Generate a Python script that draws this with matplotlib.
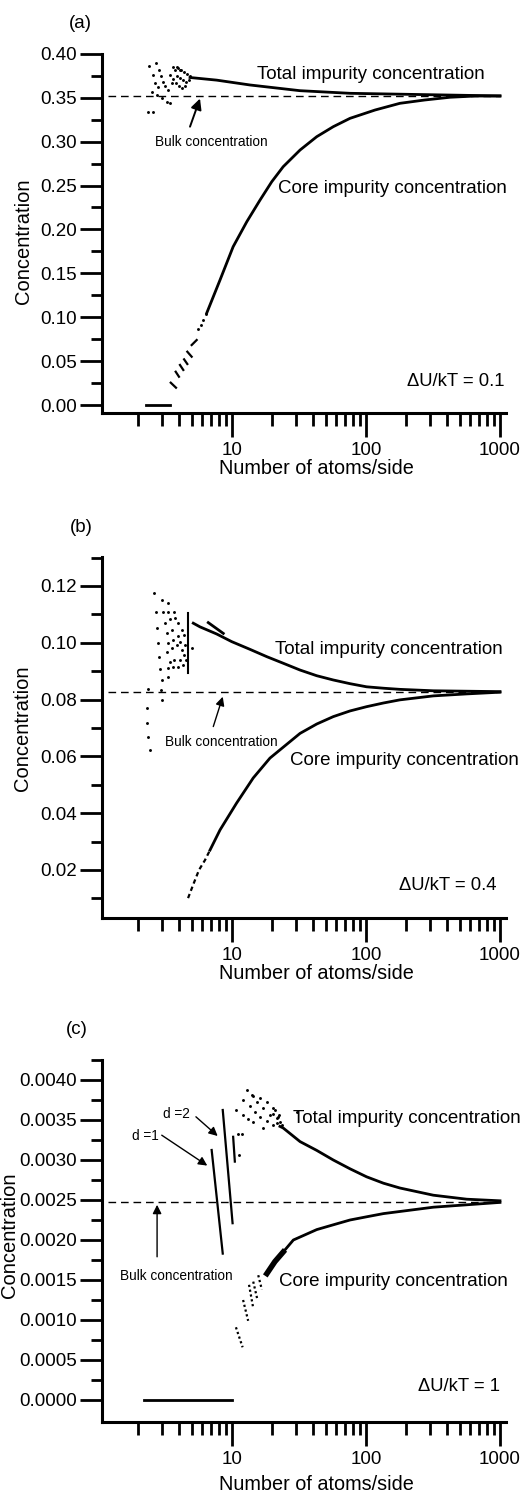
import numpy as np
import matplotlib
matplotlib.use('Agg')
import matplotlib.pyplot as plt
from matplotlib.ticker import FixedLocator, NullFormatter, FormatStrFormatter

plt.rcParams['font.family'] = ['Liberation Sans', 'DejaVu Sans']

W, H = 531, 1497

# ---------------- panel (a), dU/kT = 0.1 ----------------
a_bulk = 0.352
a_total_n = [4.86, 7.69, 13.6, 32.1, 76, 180, 424, 1000]
a_total_c = [0.373, 0.370, 0.3645, 0.358, 0.355, 0.354, 0.353, 0.352]
a_core_n = [6.48, 8.14, 10.2, 12.9, 16.2, 19.8, 24.1, 32.2, 42.9, 57.0, 76.0, 117, 179, 275, 424, 650, 1000]
a_core_c = [0.1048, 0.1424, 0.1803, 0.2088, 0.2335, 0.2543, 0.2714, 0.2904, 0.3056, 0.3170,
            0.3265, 0.3360, 0.3436, 0.3474, 0.3505, 0.3519, 0.352]
# short broken pieces of the core curve (n0, n1, c0, c1)
a_core_pieces = [(3.49, 3.82, 0.0254, 0.0197), (3.80, 4.02, 0.0379, 0.0322),
                 (4.09, 4.33, 0.0456, 0.0399), (4.39, 4.64, 0.0520, 0.0467),
                 (4.64, 5.00, 0.0607, 0.0550), (5.00, 5.45, 0.0683, 0.0740)]
a_core_dots_n = [5.60, 5.84, 6.11, 6.40]
a_core_dots_c = [0.0865, 0.0911, 0.0972, 0.1036]
a_zero_n = [2.3, 3.45]
a_scat_n = [2.415, 2.71, 2.56, 2.87, 2.94, 2.66, 3.07, 2.82, 3.16, 2.52, 2.74, 2.99, 3.26, 3.45,
            2.374, 2.59, 3.35, 3.55, 3.45, 3.65, 3.87, 4.09,
            3.76, 3.95, 4.16, 4.39, 4.62, 4.86, 3.89, 4.09, 4.31, 4.54, 4.78, 3.82, 4.02, 4.24,
            4.46, 3.63]
a_scat_c = [0.386, 0.389, 0.376, 0.3815, 0.3747, 0.3664, 0.3682, 0.3618, 0.3633, 0.3568, 0.3531,
            0.3493, 0.3454, 0.3436, 0.334, 0.334, 0.3588, 0.3664, 0.376, 0.3853, 0.3853, 0.3815,
            0.3815, 0.3838, 0.3815, 0.3793, 0.3770, 0.3747, 0.3747, 0.3724, 0.3702, 0.3679,
            0.3702, 0.3667, 0.3633, 0.3610, 0.3633, 0.3713]

# ---------------- panel (b), dU/kT = 0.4 ----------------
b_bulk = 0.0828
b_total_n = [5.14, 5.77, 7.68, 9.95, 13.6, 18.2, 24.1, 32.2, 42.9, 57.0, 76, 101, 135, 179, 318, 1000]
b_total_c = [0.1069, 0.1056, 0.1031, 0.1004, 0.0977, 0.0951, 0.0928, 0.0904, 0.0884, 0.0869,
             0.0856, 0.0845, 0.0840, 0.0836, 0.0831, 0.0828]
b_dash_n = [6.65, 8.61]
b_dash_c = [0.1071, 0.1033]
b_bar_n = 4.67
b_bar_c = [0.0894, 0.1105]
b_core_n = [4.70, 5.12, 5.67, 6.29, 6.85, 8.14, 10.8, 14.4, 19.2, 32.2, 42.9, 57.0, 76, 101,
            135, 179, 318, 565, 1000]
b_core_c = [0.0101, 0.0147, 0.0200, 0.0235, 0.0270, 0.0341, 0.0435, 0.0524, 0.0594, 0.0681,
            0.0714, 0.0740, 0.0760, 0.0775, 0.0788, 0.0799, 0.0813, 0.0820, 0.0826]
b_scat_n = [2.63, 3.02, 3.35, 2.70, 3.07, 3.35, 3.71, 3.16, 3.45, 3.76, 2.74, 3.26, 3.55, 3.94,
            2.82, 3.35, 3.65, 3.97, 4.21, 2.85, 3.26, 3.55, 3.87, 4.09, 2.90, 3.35, 3.65, 3.97,
            2.99, 3.35, 3.71, 4.09, 3.45, 2.35, 2.95, 2.99, 2.31, 2.31, 2.37, 2.44,
            4.24, 4.39, 4.31, 4.46, 4.54, 4.39, 5.0]
b_scat_c = [0.1174, 0.1151, 0.1141, 0.1108, 0.1108, 0.1108, 0.1108, 0.1071, 0.1083, 0.1086,
            0.1051, 0.1033, 0.1045, 0.1069, 0.1000, 0.0998, 0.1010, 0.1024, 0.1045, 0.0951,
            0.0969, 0.0981, 0.0992, 0.1004, 0.0907, 0.0910, 0.0914, 0.0914, 0.0869, 0.0881,
            0.0939, 0.0939, 0.0933, 0.0836, 0.0834, 0.0799, 0.0769, 0.0717, 0.0669, 0.0623,
            0.0975, 0.0957, 0.0922, 0.0992, 0.0939, 0.1027, 0.0981]

# ---------------- panel (c), dU/kT = 1 ----------------
c_bulk = 0.00248
c_total_n = [22.8, 24.1, 32.2, 42.9, 57.0, 76, 101, 135, 179, 318, 565, 1000]
c_total_c = [0.00342, 0.00340, 0.00323, 0.00312, 0.00300, 0.00289, 0.00279, 0.00271, 0.00265,
             0.00256, 0.00251, 0.00249]
c_core_n = [18.2, 20.9, 24.1, 28.7, 42.9, 57.0, 76.0, 101, 135, 318, 1000]
c_core_c = [0.00158, 0.00173, 0.00185, 0.00200, 0.00213, 0.00219, 0.00225, 0.00229, 0.00233,
            0.00241, 0.00247]
c_core_cols = [(10.7, 12.0, 0.000909, 0.000659), (12.1, 13.2, 0.00125, 0.00099),
               (13.4, 14.4, 0.00144, 0.00115), (14.4, 15.4, 0.00148, 0.00127),
               (15.7, 16.7, 0.00156, 0.00138)]
c_zero_n = [2.2, 10.0]
c_d1_n = [7.05, 8.53]
c_d1_c = [0.003125, 0.00183]
c_d2_n = [8.53, 10.1]
c_d2_c = [0.003625, 0.00221]
c_bar_n = [10.2, 10.5]
c_bar_c = [0.00329, 0.00298]
c_fan_n = [12.9, 14.0, 15.3, 17.1, 19.2, 21.6,
           12.1, 13.6, 14.8, 16.2, 18.2, 20.3,
           10.8, 12.1, 13.2, 14.4,
           14.4, 16.2, 18.2, 20.3, 22.1,
           11.1, 11.8, 11.3, 17.1, 30.4,
           20.3, 21.6, 22.8, 23.5, 21.0, 22.5]
c_fan_c = [0.00388, 0.00381, 0.00373, 0.00365, 0.00356, 0.00346,
           0.00375, 0.00367, 0.00360, 0.00354, 0.00349, 0.00344,
           0.00363, 0.00356, 0.00351, 0.00347,
           0.00380, 0.00377, 0.00373, 0.00365, 0.00354,
           0.00333, 0.00333, 0.00306, 0.00340, 0.00360,
           0.00358, 0.00352, 0.00348, 0.00344, 0.00362, 0.00356]

xlim = (1.071, 1109)
minor_x = [2, 3, 4, 5, 6, 7, 8, 9, 20, 30, 40, 50, 60, 70, 80, 90,
           200, 300, 400, 500, 600, 700, 800, 900]

fig = plt.figure(figsize=(W / 100, H / 100), dpi=100)


def px_axes(left, top, right, bottom):
    return fig.add_axes([left / W, 1 - bottom / H, (right - left) / W, (bottom - top) / H])


def ftext(x, y, s, **kw):
    fig.text(x / W, 1 - y / H, s, **kw)


def style(ax, ylim, major, minor, fmt):
    ax.set_xscale('log')
    ax.set_xlim(*xlim)
    ax.set_ylim(*ylim)
    for s in ['top', 'right']:
        ax.spines[s].set_visible(False)
    for s in ['left', 'bottom']:
        ax.spines[s].set_linewidth(2.2)
    ax.xaxis.set_major_locator(FixedLocator([10, 100, 1000]))
    ax.xaxis.set_minor_locator(FixedLocator(minor_x))
    ax.set_xticklabels(['10', '100', '1000'])
    ax.xaxis.set_minor_formatter(NullFormatter())
    ax.yaxis.set_major_locator(FixedLocator(major))
    ax.yaxis.set_minor_locator(FixedLocator(minor))
    ax.yaxis.set_major_formatter(FormatStrFormatter(fmt))
    ax.tick_params(which='major', length=16, width=2, direction='out', labelsize=13.5, pad=2)
    ax.tick_params(which='minor', length=8, width=2, direction='out')
    ax.tick_params(axis='x', which='major', length=17, pad=4)
    ax.tick_params(axis='x', which='minor', length=9)


def bulk_line(ax, v):
    ax.plot([1.19, 1000], [v, v], color='k', lw=1.0, dashes=(5.5, 3.5))


def arrow(ax, tail, head, lw=1.0, ms=12):
    ax.annotate('', xy=head, xytext=tail,
                arrowprops=dict(arrowstyle='-|>', color='k', lw=lw, mutation_scale=ms,
                                shrinkA=0, shrinkB=0))


dot = dict(ls='none', marker='o', ms=2.1, color='k', mec='none')

# ---- (a)
ax = px_axes(102, 53.8, 506, 413)
style(ax, (-0.00911, 0.40), np.arange(0, 0.401, 0.05), np.arange(0.025, 0.40, 0.05), '%.2f')
bulk_line(ax, a_bulk)
ax.plot(a_total_n, a_total_c, color='k', lw=2.0)
ax.plot(a_core_n, a_core_c, color='k', lw=2.0)
for n0, n1, c0, c1 in a_core_pieces:
    ax.plot([n0, n1], [c0, c1], color='k', lw=1.6)
ax.plot(a_core_dots_n, a_core_dots_c, **dot)
ax.plot(a_zero_n, [0, 0], color='k', lw=2.0)
ax.plot(a_scat_n, a_scat_c, **dot)
ax.text(15.4, 0.376, 'Total impurity concentration', fontsize=13.5, ha='left', va='center')
ax.text(22.0, 0.247, 'Core impurity concentration', fontsize=13.5, ha='left', va='center')
ax.text(7.05, 0.300, 'Bulk concentration', fontsize=9.8, ha='center', va='center')
arrow(ax, (4.86, 0.317), (5.77, 0.349), lw=1.4, ms=16)
ax.text(1089, 0.0265, '\u0394U/kT = 0.1', fontsize=13.3, ha='right', va='center')

# ---- (b)
ax = px_axes(102, 557, 506, 918)
style(ax, (0.0031, 0.1302), np.arange(0.02, 0.121, 0.02), np.arange(0.01, 0.131, 0.02), '%.2f')
bulk_line(ax, b_bulk)
ax.plot(b_total_n, b_total_c, color='k', lw=2.0)
ax.plot(b_dash_n, b_dash_c, color='k', lw=2.0)
ax.plot([b_bar_n, b_bar_n], b_bar_c, color='k', lw=1.5)
ax.plot(b_core_n[4:], b_core_c[4:], color='k', lw=2.0)
ax.plot(b_core_n[:5], b_core_c[:5], color='k', lw=1.6, dashes=(2, 1.5))
ax.plot(b_scat_n, b_scat_c, **dot)
ax.text(20.9, 0.0977, 'Total impurity concentration', fontsize=13.5, ha='left', va='center')
ax.text(27.1, 0.0585, 'Core impurity concentration', fontsize=13.5, ha='left', va='center')
ax.text(8.28, 0.0652, 'Bulk concentration', fontsize=9.8, ha='center', va='center')
arrow(ax, (7.25, 0.0705), (8.53, 0.0810), lw=1.0, ms=13)
ax.text(950, 0.0147, '\u0394U/kT = 0.4', fontsize=13.3, ha='right', va='center')

# ---- (c)
ax = px_axes(102, 1060, 506, 1422)
style(ax, (-0.000275, 0.00425), np.arange(0, 0.00401, 0.0005),
      np.arange(0.00025, 0.00426, 0.0005), '%.4f')
bulk_line(ax, c_bulk)
ax.plot(c_total_n, c_total_c, color='k', lw=2.0)
ax.plot(c_core_n, c_core_c, color='k', lw=2.0)
ax.plot(c_core_n[:3], c_core_c[:3], color='k', lw=4.0)
for n0, n1, c0, c1 in c_core_cols:
    ax.plot([n0, n1], [c0, c1], color='k', lw=1.6, dashes=(1, 1.2))
ax.plot(c_zero_n, [0, 0], color='k', lw=2.0)
ax.plot(c_d1_n, c_d1_c, color='k', lw=1.6)
ax.plot(c_d2_n, c_d2_c, color='k', lw=1.6)
ax.plot(c_bar_n, c_bar_c, color='k', lw=1.6)
ax.plot(c_fan_n, c_fan_c, **dot)
ax.text(28.5, 0.00352, 'Total impurity concentration', fontsize=13.5, ha='left', va='center')
ax.text(22.4, 0.00148, 'Core impurity concentration', fontsize=13.5, ha='left', va='center')
ax.text(3.87, 0.00155, 'Bulk concentration', fontsize=9.8, ha='center', va='center')
arrow(ax, (2.76, 0.00179), (2.76, 0.00244), lw=1.0, ms=13)
ax.text(1000, 0.000166, '\u0394U/kT = 1', fontsize=13.3, ha='right', va='center')
ax.text(3.87, 0.00358, 'd =2', fontsize=9.8, ha='center', va='center')
arrow(ax, (5.38, 0.00354), (7.82, 0.00330), lw=1.0, ms=13)
ax.text(2.24, 0.00330, 'd =1', fontsize=9.8, ha='center', va='center')
arrow(ax, (2.99, 0.00331), (6.54, 0.00293), lw=1.0, ms=13)

# panel letters and axis titles
ftext(80, 23, '(a)', fontsize=13.5, ha='center', va='center')
ftext(81, 527, '(b)', fontsize=13.5, ha='center', va='center')
ftext(77, 1030, '(c)', fontsize=13.5, ha='center', va='center')
ftext(24, 241, 'Concentration', fontsize=14.5, rotation=90, ha='center', va='center')
ftext(23, 728, 'Concentration', fontsize=14.5, rotation=90, ha='center', va='center')
ftext(0.5, 1235, 'Concentration', fontsize=14.5, rotation=90, ha='left', va='center')
for yc in [468, 974, 1484]:
    ftext(316, yc, 'Number of atoms/side', fontsize=14.3, ha='center', va='center')

fig.savefig('out.png', dpi=100)
